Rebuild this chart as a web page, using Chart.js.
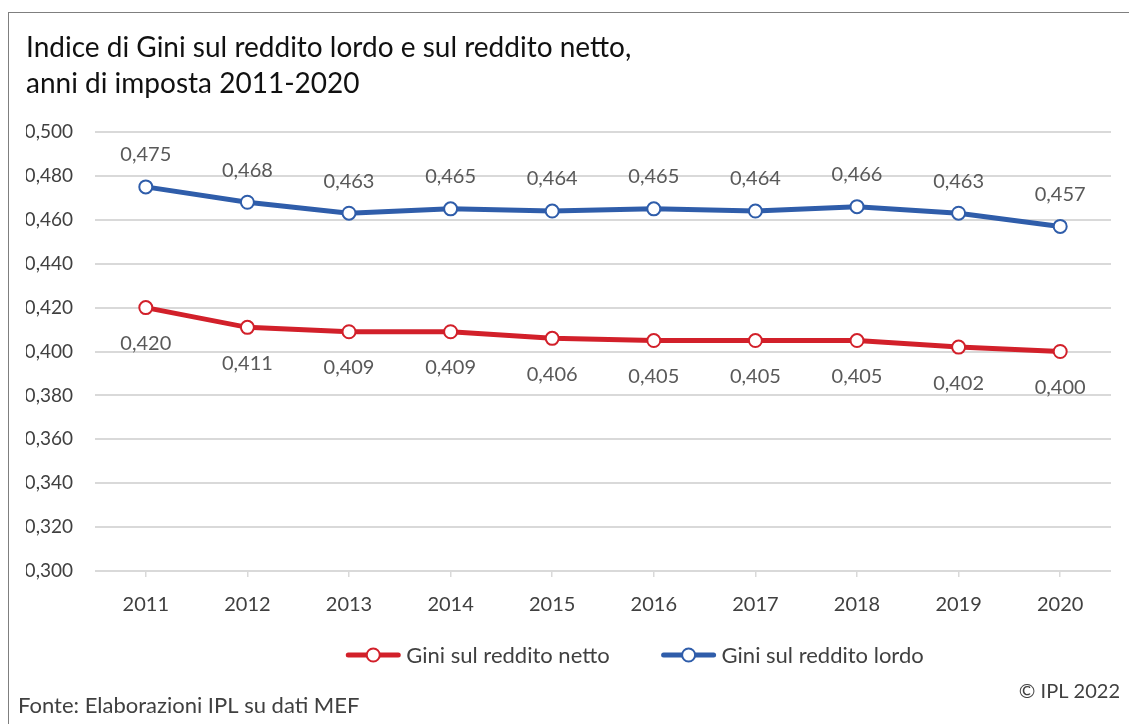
<!DOCTYPE html>
<html>
<head>
<meta charset="utf-8">
<script src="https://cdn.jsdelivr.net/npm/chart.js@4.4.0/dist/chart.umd.min.js"></script>
<style>
html, body { margin: 0; padding: 0; background: #fff; }
#wrap { position: relative; width: 1129px; height: 724px; overflow: hidden; }
#frame { position: absolute; left: 8px; top: 12px; width: 1200px; height: 800px;
         border-left: 1.5px solid #7f7f7f; border-top: 1.5px solid #7f7f7f; }
canvas { position: absolute; left: 0; top: 0; }
</style>
</head>
<body>
<div id="wrap">
  <div id="frame"></div>
  <canvas id="chart" width="1129" height="724"></canvas>
</div>
<script>
const years = ['2011', '2012', '2013', '2014', '2015', '2016', '2017', '2018', '2019', '2020'];
const giniNetto = [0.420, 0.411, 0.409, 0.409, 0.406, 0.405, 0.405, 0.405, 0.402, 0.400];
const giniLordo = [0.475, 0.468, 0.463, 0.465, 0.464, 0.465, 0.464, 0.466, 0.463, 0.457];
const titleLines = ['Indice di Gini sul reddito lordo e sul reddito netto,', 'anni di imposta 2011-2020'];
const sourceText = 'Fonte: Elaborazioni IPL su dati MEF';
const copyrightText = '© IPL 2022';

const FONT = 'Lato, "Noto Sans", sans-serif';
const RED = '#D2202A';
const BLUE = '#2F5DAA';

const fmt = v => v.toFixed(3).replace('.', ',');

// value labels above (lordo) / below (netto) the points
const valueLabels = {
    id: 'valueLabels',
    afterDatasetsDraw(chart) {
        const ctx = chart.ctx;
        ctx.save();
        ctx.font = '20px ' + FONT;
        ctx.fillStyle = '#595959';
        ctx.textAlign = 'center';
        ctx.textBaseline = 'middle';
        chart.data.datasets.forEach((ds, i) => {
            const meta = chart.getDatasetMeta(i);
            meta.data.forEach((pt, j) => {
                ctx.fillText(fmt(ds.data[j]), pt.x, pt.y + ds.labelOffset);
            });
        });
        ctx.restore();
    }
};

// legend with line + circle markers, plus source and copyright
const legendAndNotes = {
    id: 'legendAndNotes',
    afterDraw(chart) {
        const ctx = chart.ctx;
        ctx.save();
        ctx.font = '22px ' + FONT;
        ctx.textBaseline = 'middle';
        const lineW = 54, gapText = 6, gapItem = 52;
        const items = chart.data.datasets.map(ds => ({
            label: ds.label, color: ds.borderColor, w: lineW + gapText + ctx.measureText(ds.label).width
        }));
        const total = items.reduce((s, it) => s + it.w, 0) + gapItem * (items.length - 1);
        let x = 635 - total / 2;
        const y = 655;
        items.forEach(it => {
            ctx.strokeStyle = it.color;
            ctx.lineWidth = 5;
            ctx.lineCap = 'round';
            ctx.beginPath();
            ctx.moveTo(x + 2, y);
            ctx.lineTo(x + lineW - 2, y);
            ctx.stroke();
            ctx.beginPath();
            ctx.arc(x + lineW / 2, y, 6.5, 0, Math.PI * 2);
            ctx.fillStyle = '#fff';
            ctx.fill();
            ctx.lineWidth = 2;
            ctx.stroke();
            ctx.fillStyle = '#404040';
            ctx.textAlign = 'left';
            ctx.fillText(it.label, x + lineW + gapText, y + 1);
            x += it.w + gapItem;
        });

        ctx.fillStyle = '#404040';
        ctx.font = '22px ' + FONT;
        ctx.textAlign = 'left';
        ctx.fillText(sourceText, 18, 706);
        ctx.font = '20px ' + FONT;
        ctx.textAlign = 'right';
        ctx.fillText(copyrightText, 1120, 692);
        ctx.restore();
    }
};

new Chart(document.getElementById('chart').getContext('2d'), {
    type: 'line',
    data: {
        labels: years,
        datasets: [
            {
                label: 'Gini sul reddito netto',
                data: giniNetto,
                borderColor: RED,
                pointBorderColor: RED,
                pointBackgroundColor: '#fff',
                borderWidth: 5,
                pointRadius: 6.5,
                pointBorderWidth: 2,
                tension: 0,
                labelOffset: 36
            },
            {
                label: 'Gini sul reddito lordo',
                data: giniLordo,
                borderColor: BLUE,
                pointBorderColor: BLUE,
                pointBackgroundColor: '#fff',
                borderWidth: 5,
                pointRadius: 6.5,
                pointBorderWidth: 2,
                tension: 0,
                labelOffset: -32
            }
        ]
    },
    options: {
        responsive: false,
        animation: false,
        layout: {
            padding: { left: 26, right: 18, top: 12, bottom: 113 }
        },
        plugins: {
            legend: { display: false },
            tooltip: { enabled: false },
            title: {
                display: true,
                text: titleLines,
                align: 'start',
                color: '#111',
                font: { family: FONT, size: 28, weight: 'normal', lineHeight: 1.286 },
                padding: { top: 18, bottom: 30 }
            }
        },
        scales: {
            x: {
                offset: true,
                grid: {
                    offset: false,
                    drawOnChartArea: false,
                    tickLength: 6,
                    color: '#d9d9d9',
                    lineWidth: 1.5
                },
                border: { display: false },
                ticks: {
                    padding: 16,
                    color: '#404040',
                    font: { family: FONT, size: 20 }
                },
                afterFit(scale) { scale.height = 40; }
            },
            y: {
                min: 0.3,
                max: 0.5,
                grid: {
                    drawTicks: false,
                    color: '#d9d9d9',
                    lineWidth: 2
                },
                border: { display: false },
                ticks: {
                    stepSize: 0.02,
                    padding: 22,
                    color: '#404040',
                    font: { family: FONT, size: 19 },
                    callback: v => fmt(v)
                },
                afterFit(scale) { scale.width = 69; }
            }
        }
    },
    plugins: [valueLabels, legendAndNotes]
});
</script>
</body>
</html>
